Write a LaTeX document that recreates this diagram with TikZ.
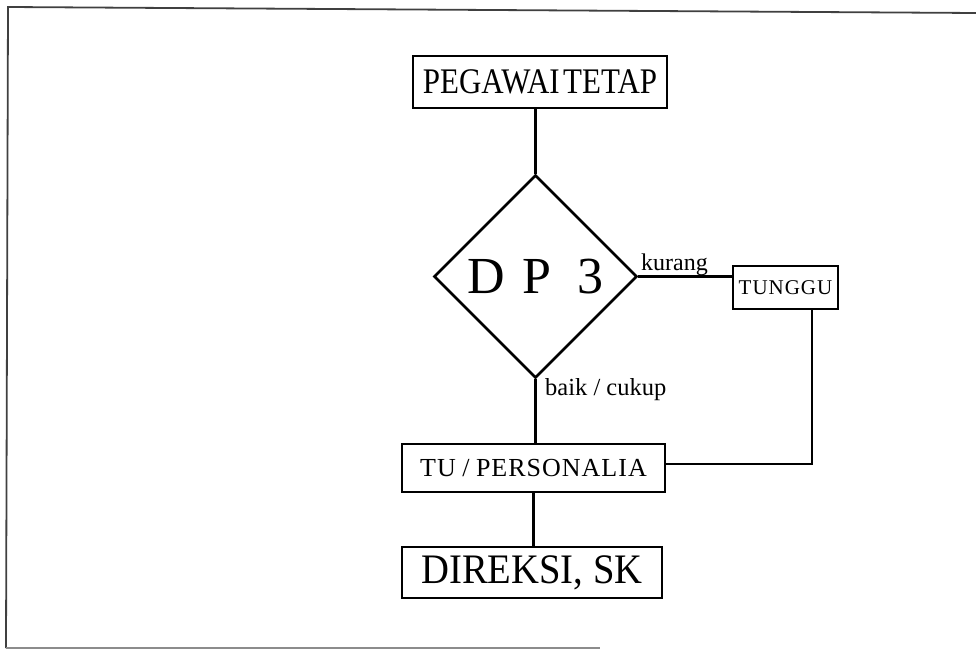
\documentclass[tikz,border=0pt]{standalone}
\usepackage{fontspec}
\setmainfont{Liberation Serif}
\usetikzlibrary{shapes.geometric}
\begin{document}
\begin{tikzpicture}[x=1pt,y=-1pt,
  box/.style={draw,line width=2.6pt,rectangle,inner sep=0pt},
  lbl/.style={inner sep=0pt,anchor=base west},
  conn/.style={line width=2.6pt}]
\useasboundingbox (0,0) rectangle (976,650);
% frame
\draw[line width=1.8pt,black!75] (976,13) -- (8,7) -- (6,648);
\draw[line width=1.4pt,black!45] (6,648) -- (600,648);
% nodes
\node[box,minimum width=254pt,minimum height=52pt] (peg) at (540,82)
  {\scalebox{0.86}[1]{\fontsize{36}{36}\selectfont PEGAWAI\kern4pt TETAP}};
\node[draw,line width=2.6pt,diamond,aspect=1,minimum width=203pt,minimum height=203pt,inner sep=0pt] (dp) at (535.5,276.5)
  {\fontsize{52}{52}\selectfont D\,\,P\,\,\,3};
\node[box,minimum width=105pt,minimum height=43pt] (tunggu) at (785.5,287.5)
  {\fontsize{21}{21}\selectfont T\kern1pt U\kern1pt N\kern1pt G\kern1pt G\kern1pt U};
\node[box,minimum width=263pt,minimum height=48pt] (tu) at (533.5,468)
  {\fontsize{26}{26}\selectfont T\kern1pt U / P\kern1pt E\kern1pt R\kern1pt S\kern1pt O\kern1pt N\kern1pt A\kern1pt L\kern1pt I\kern1pt A};
\node[box,minimum width=260pt,minimum height=51pt] (dir) at (532,572.5)
  {\scalebox{0.92}[1]{\fontsize{42}{42}\selectfont DIREKSI, SK}};
% labels
\node[lbl] (kur) at (641,270) {\fontsize{24}{24}\selectfont kurang};
\node[lbl] (baik) at (545,395) {\fontsize{24.5}{24.5}\selectfont baik / cukup};
% connectors
\draw[conn] (dp.north) -- (dp.north |- peg.south);
\draw[conn] (dp.east) -- (dp.east -| tunggu.west);
\draw[conn] (dp.south) -- (dp.south |- tu.north);
\draw[conn] (tu.south) -- (tu.south |- dir.north);
\coordinate (corner) at ([xshift=26.5pt]tunggu.south);
\draw[conn] (corner) |- ([yshift=4pt]tu.east);
\end{tikzpicture}
\end{document}
